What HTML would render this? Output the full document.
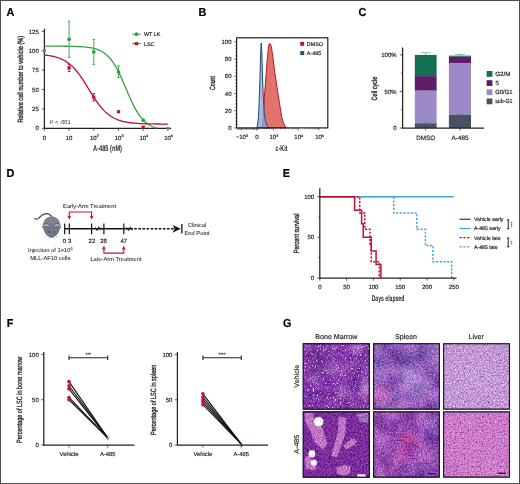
<!DOCTYPE html>
<html lang="en"><head><meta charset="utf-8"><title>Figure</title>
<style>
html,body{margin:0;padding:0;background:#fff;}
body{width:520px;height:484px;overflow:hidden;position:relative;}
svg{display:block;position:absolute;left:0;top:0;}
svg text{font-family:"Liberation Sans",sans-serif;text-rendering:geometricPrecision;}
#frame{position:absolute;left:0;top:0;width:518px;height:482px;border:1px solid #4d4d4d;}
</style></head><body>
<svg width="520" height="484" viewBox="0 0 520 484">
<defs><filter id="t00" filterUnits="userSpaceOnUse" x="303.15" y="343.75" width="66.15" height="65.3" color-interpolation-filters="sRGB"><feTurbulence type="fractalNoise" baseFrequency="0.65" numOctaves="2" seed="3" result="n"/><feColorMatrix in="n" type="matrix" values="0.6 0 0 0 0.22  0.45 0.15 0 0 0.22  0.45 0 0.15 0 0.22  0 0 0 0 1" result="n2"/><feComposite in="SourceGraphic" in2="n2" operator="arithmetic" k1="0" k2="1" k3="1" k4="-0.5" result="c1"/><feTurbulence type="fractalNoise" baseFrequency="0.08" numOctaves="2" seed="41" result="bn"/><feColorMatrix in="bn" type="matrix" values="0.3 0 0 0 0.35  0.24 0.06 0 0 0.35  0.18 0 0.06 0 0.38  0 0 0 0 1" result="bn2"/><feComposite in="c1" in2="bn2" operator="arithmetic" k1="0" k2="1" k3="1" k4="-0.5" result="cb"/><feTurbulence type="fractalNoise" baseFrequency="0.6" numOctaves="2" seed="11" result="wn"/><feColorMatrix in="wn" type="matrix" values="0 0 0 0 1  0 0 0 0 1  0 0 0 0 1  0 6 0 0 -3.84" result="w2"/><feComposite in="w2" in2="cb" operator="over" result="c3"/></filter><filter id="t01" filterUnits="userSpaceOnUse" x="373.65" y="343.75" width="65.7" height="65.3" color-interpolation-filters="sRGB"><feTurbulence type="fractalNoise" baseFrequency="0.65" numOctaves="2" seed="5" result="n"/><feColorMatrix in="n" type="matrix" values="0.7 0 0 0 0.17  0.52 0.17 0 0 0.17  0.52 0 0.17 0 0.17  0 0 0 0 1" result="n2"/><feComposite in="SourceGraphic" in2="n2" operator="arithmetic" k1="0" k2="1" k3="1" k4="-0.5" result="c1"/><feTurbulence type="fractalNoise" baseFrequency="0.06" numOctaves="2" seed="31" result="bn"/><feColorMatrix in="bn" type="matrix" values="0.45 0 0 0 0.28  0.36 0.09 0 0 0.28  0.27 0 0.09 0 0.32  0 0 0 0 1" result="bn2"/><feComposite in="c1" in2="bn2" operator="arithmetic" k1="0" k2="1" k3="1" k4="-0.5" result="cb"/><feTurbulence type="fractalNoise" baseFrequency="0.5" numOctaves="2" seed="12" result="wn"/><feColorMatrix in="wn" type="matrix" values="0 0 0 0 1  0 0 0 0 1  0 0 0 0 1  0 7 0 0 -5.18" result="w2"/><feComposite in="w2" in2="cb" operator="over" result="c3"/></filter><filter id="t02" filterUnits="userSpaceOnUse" x="443.65" y="343.75" width="65.8" height="65.3" color-interpolation-filters="sRGB"><feTurbulence type="fractalNoise" baseFrequency="0.65" numOctaves="2" seed="7" result="n"/><feColorMatrix in="n" type="matrix" values="0.8 0 0 0 0.12  0.6 0.2 0 0 0.12  0.6 0 0.2 0 0.12  0 0 0 0 1" result="n2"/><feComposite in="SourceGraphic" in2="n2" operator="arithmetic" k1="0" k2="1" k3="1" k4="-0.5" result="c1"/><feTurbulence type="fractalNoise" baseFrequency="0.5" numOctaves="2" seed="21" result="dn"/><feColorMatrix in="dn" type="matrix" values="0 0 0 0 0.45  0 0 0 0 0.25  0 0 0 0 0.6  6 0 0 0 -3.96" result="d2"/><feComposite in="d2" in2="c1" operator="over" result="c2"/></filter><filter id="t10" filterUnits="userSpaceOnUse" x="303.15" y="411.95" width="66.15" height="65.1" color-interpolation-filters="sRGB"><feTurbulence type="fractalNoise" baseFrequency="0.65" numOctaves="2" seed="9" result="n"/><feColorMatrix in="n" type="matrix" values="0.65 0 0 0 0.17  0.49 0.16 0 0 0.17  0.49 0 0.16 0 0.17  0 0 0 0 1" result="n2"/><feComposite in="SourceGraphic" in2="n2" operator="arithmetic" k1="0" k2="1" k3="1" k4="-0.5" result="c1"/></filter><filter id="t11" filterUnits="userSpaceOnUse" x="373.65" y="411.95" width="65.7" height="65.1" color-interpolation-filters="sRGB"><feTurbulence type="fractalNoise" baseFrequency="0.65" numOctaves="2" seed="13" result="n"/><feColorMatrix in="n" type="matrix" values="0.7 0 0 0 0.17  0.52 0.17 0 0 0.17  0.52 0 0.17 0 0.17  0 0 0 0 1" result="n2"/><feComposite in="SourceGraphic" in2="n2" operator="arithmetic" k1="0" k2="1" k3="1" k4="-0.5" result="c1"/><feTurbulence type="fractalNoise" baseFrequency="0.06" numOctaves="2" seed="37" result="bn"/><feColorMatrix in="bn" type="matrix" values="0.45 0 0 0 0.28  0.36 0.09 0 0 0.28  0.27 0 0.09 0 0.32  0 0 0 0 1" result="bn2"/><feComposite in="c1" in2="bn2" operator="arithmetic" k1="0" k2="1" k3="1" k4="-0.5" result="cb"/><feTurbulence type="fractalNoise" baseFrequency="0.5" numOctaves="2" seed="15" result="wn"/><feColorMatrix in="wn" type="matrix" values="0 0 0 0 1  0 0 0 0 1  0 0 0 0 1  0 7 0 0 -5.32" result="w2"/><feComposite in="w2" in2="cb" operator="over" result="c3"/></filter><filter id="t12" filterUnits="userSpaceOnUse" x="443.65" y="411.95" width="65.8" height="65.1" color-interpolation-filters="sRGB"><feTurbulence type="fractalNoise" baseFrequency="0.65" numOctaves="2" seed="17" result="n"/><feColorMatrix in="n" type="matrix" values="0.6 0 0 0 0.22  0.45 0.15 0 0 0.22  0.45 0 0.15 0 0.22  0 0 0 0 1" result="n2"/><feComposite in="SourceGraphic" in2="n2" operator="arithmetic" k1="0" k2="1" k3="1" k4="-0.5" result="c1"/><feTurbulence type="fractalNoise" baseFrequency="0.5" numOctaves="2" seed="23" result="dn"/><feColorMatrix in="dn" type="matrix" values="0 0 0 0 0.42  0 0 0 0 0.15  0 0 0 0 0.5  6 0 0 0 -3.84" result="d2"/><feComposite in="d2" in2="c1" operator="over" result="c2"/></filter><filter id="bl3" x="-50%" y="-50%" width="200%" height="200%"><feGaussianBlur stdDeviation="3"/></filter><filter id="bl2" x="-20%" y="-20%" width="140%" height="140%"><feGaussianBlur stdDeviation="0.7"/></filter></defs>
<rect width="520" height="484" fill="#fff"/>
<text transform="translate(6.6,15.8) scale(0.94,1)" font-size="11.5" font-weight="bold" fill="#000" stroke="#000" stroke-width="0.2">A</text>
<text transform="translate(198.4,15.8) scale(0.94,1)" font-size="11.5" font-weight="bold" fill="#000" stroke="#000" stroke-width="0.2">B</text>
<text transform="translate(358.6,15.8) scale(0.94,1)" font-size="11.5" font-weight="bold" fill="#000" stroke="#000" stroke-width="0.2">C</text>
<text transform="translate(6.6,177.3) scale(0.94,1)" font-size="11.5" font-weight="bold" fill="#000" stroke="#000" stroke-width="0.2">D</text>
<text transform="translate(282.8,176.8) scale(0.94,1)" font-size="11.5" font-weight="bold" fill="#000" stroke="#000" stroke-width="0.2">E</text>
<text transform="translate(6.7,326.6) scale(0.94,1)" font-size="11.5" font-weight="bold" fill="#000" stroke="#000" stroke-width="0.2">F</text>
<text transform="translate(283.1,326.8) scale(0.94,1)" font-size="11.5" font-weight="bold" fill="#000" stroke="#000" stroke-width="0.2">G</text>
<line x1="44.4" y1="28.8" x2="44.4" y2="128.7" stroke="#231f20" stroke-width="1.25" />
<line x1="44" y1="128.3" x2="171" y2="128.3" stroke="#231f20" stroke-width="1.25" />
<line x1="41.8" y1="128.3" x2="44.4" y2="128.3" stroke="#231f20" stroke-width="0.7" />
<text x="38.8" y="130.4" font-size="6.0" text-anchor="end" font-weight="normal" fill="#231f20" stroke="#231f20" stroke-width="0.18" >0</text>
<line x1="41.8" y1="108.93" x2="44.4" y2="108.93" stroke="#231f20" stroke-width="0.7" />
<text x="38.8" y="111.03" font-size="6.0" text-anchor="end" font-weight="normal" fill="#231f20" stroke="#231f20" stroke-width="0.18" >25</text>
<line x1="41.8" y1="89.55" x2="44.4" y2="89.55" stroke="#231f20" stroke-width="0.7" />
<text x="38.8" y="91.65" font-size="6.0" text-anchor="end" font-weight="normal" fill="#231f20" stroke="#231f20" stroke-width="0.18" >50</text>
<line x1="41.8" y1="70.18" x2="44.4" y2="70.18" stroke="#231f20" stroke-width="0.7" />
<text x="38.8" y="72.28" font-size="6.0" text-anchor="end" font-weight="normal" fill="#231f20" stroke="#231f20" stroke-width="0.18" >75</text>
<line x1="41.8" y1="50.8" x2="44.4" y2="50.8" stroke="#231f20" stroke-width="0.7" />
<text x="38.8" y="52.9" font-size="6.0" text-anchor="end" font-weight="normal" fill="#231f20" stroke="#231f20" stroke-width="0.18" >100</text>
<line x1="41.8" y1="31.43" x2="44.4" y2="31.43" stroke="#231f20" stroke-width="0.7" />
<text x="38.8" y="33.53" font-size="6.0" text-anchor="end" font-weight="normal" fill="#231f20" stroke="#231f20" stroke-width="0.18" >125</text>
<line x1="44.4" y1="128.3" x2="44.4" y2="130.9" stroke="#231f20" stroke-width="0.7" />
<text x="44.4" y="139.6" font-size="6.0" text-anchor="middle" font-weight="normal" fill="#231f20" stroke="#231f20" stroke-width="0.18" >0</text>
<line x1="69.1" y1="128.3" x2="69.1" y2="130.9" stroke="#231f20" stroke-width="0.7" />
<text x="69.1" y="139.6" font-size="6.0" text-anchor="middle" font-weight="normal" fill="#231f20" stroke="#231f20" stroke-width="0.18" >10</text>
<line x1="93.8" y1="128.3" x2="93.8" y2="130.9" stroke="#231f20" stroke-width="0.7" />
<text x="94.4" y="139.6" font-size="6.0" text-anchor="middle" font-weight="normal" fill="#231f20" stroke="#231f20" stroke-width="0.18" >10<tspan dy="-2.2" font-size="3.7">2</tspan></text>
<line x1="118.5" y1="128.3" x2="118.5" y2="130.9" stroke="#231f20" stroke-width="0.7" />
<text x="119.1" y="139.6" font-size="6.0" text-anchor="middle" font-weight="normal" fill="#231f20" stroke="#231f20" stroke-width="0.18" >10<tspan dy="-2.2" font-size="3.7">3</tspan></text>
<line x1="143.2" y1="128.3" x2="143.2" y2="130.9" stroke="#231f20" stroke-width="0.7" />
<text x="143.8" y="139.6" font-size="6.0" text-anchor="middle" font-weight="normal" fill="#231f20" stroke="#231f20" stroke-width="0.18" >10<tspan dy="-2.2" font-size="3.7">4</tspan></text>
<line x1="167.9" y1="128.3" x2="167.9" y2="130.9" stroke="#231f20" stroke-width="0.7" />
<text x="168.5" y="139.6" font-size="6.0" text-anchor="middle" font-weight="normal" fill="#231f20" stroke="#231f20" stroke-width="0.18" >10<tspan dy="-2.2" font-size="3.7">5</tspan></text>
<text x="93" y="151" font-size="8.2" textLength="29" lengthAdjust="spacingAndGlyphs" font-weight="bold" fill="#231f20" stroke="#231f20" stroke-width="0">A-485 (nM)</text>
<text transform="translate(22.6,122.6) rotate(-90)" font-size="7.6" textLength="86.8" lengthAdjust="spacingAndGlyphs" font-weight="normal" fill="#231f20" stroke="#231f20" stroke-width="0.32">Relative cell number to vehicle (%)</text>
<text x="49.6" y="123.6" font-size="5.6" fill="#231f20"><tspan font-style="italic">P</tspan> &lt; .001</text>
<polyline points="44.4,46.16 45.43,46.16 46.46,46.16 47.49,46.16 48.52,46.16 49.55,46.17 50.57,46.17 51.6,46.17 52.63,46.17 53.66,46.18 54.69,46.18 55.72,46.18 56.75,46.19 57.78,46.19 58.81,46.2 59.84,46.2 60.87,46.21 61.9,46.22 62.92,46.22 63.95,46.23 64.98,46.24 66.01,46.25 67.04,46.27 68.07,46.28 69.1,46.3 70.13,46.31 71.16,46.33 72.19,46.36 73.22,46.38 74.25,46.41 75.28,46.44 76.3,46.48 77.33,46.52 78.36,46.56 79.39,46.61 80.42,46.67 81.45,46.73 82.48,46.8 83.51,46.88 84.54,46.97 85.57,47.06 86.6,47.17 87.62,47.3 88.65,47.43 89.68,47.59 90.71,47.76 91.74,47.95 92.77,48.17 93.8,48.41 94.83,48.68 95.86,48.97 96.89,49.3 97.92,49.67 98.95,50.08 99.97,50.54 101,51.04 102.03,51.6 103.06,52.22 104.09,52.9 105.12,53.65 106.15,54.48 107.18,55.38 108.21,56.37 109.24,57.45 110.27,58.63 111.3,59.9 112.32,61.28 113.35,62.76 114.38,64.35 115.41,66.05 116.44,67.85 117.47,69.76 118.5,71.77 119.53,73.87 120.56,76.05 121.59,78.31 122.62,80.64 123.65,83.01 124.67,85.41 125.7,87.84 126.73,90.27 127.76,92.69 128.79,95.08 129.82,97.42 130.85,99.71 131.88,101.93 132.91,104.07 133.94,106.12 134.97,108.08 136,109.93 137.03,111.67 138.05,113.31 139.08,114.84 140.11,116.27 141.14,117.59 142.17,118.81 143.2,119.93 144.23,120.96 145.26,121.9 146.29,122.76 147.32,123.55 148.35,124.26 149.38,124.9 150.4,125.49 151.43,126.02 152.46,126.49 153.49,126.92 154.52,127.31 155.55,127.66 156.58,127.97 157.61,128.25" fill="none" stroke="#379f42" stroke-width="1.3"/>
<polyline points="44.4,55.01 45.43,55.12 46.46,55.25 47.49,55.38 48.52,55.52 49.55,55.68 50.57,55.86 51.6,56.05 52.63,56.26 53.66,56.49 54.69,56.74 55.72,57.01 56.75,57.31 57.78,57.63 58.81,57.99 59.84,58.37 60.87,58.79 61.9,59.25 62.92,59.74 63.95,60.27 64.98,60.85 66.01,61.48 67.04,62.15 68.07,62.87 69.1,63.65 70.13,64.49 71.16,65.38 72.19,66.33 73.22,67.34 74.25,68.41 75.28,69.55 76.3,70.75 77.33,72.01 78.36,73.33 79.39,74.7 80.42,76.13 81.45,77.62 82.48,79.15 83.51,80.72 84.54,82.32 85.57,83.96 86.6,85.62 87.62,87.3 88.65,88.98 89.68,90.66 90.71,92.34 91.74,94 92.77,95.63 93.8,97.24 94.83,98.82 95.86,100.35 96.89,101.83 97.92,103.26 98.95,104.64 99.97,105.96 101,107.22 102.03,108.42 103.06,109.56 104.09,110.64 105.12,111.65 106.15,112.61 107.18,113.5 108.21,114.33 109.24,115.11 110.27,115.84 111.3,116.52 112.32,117.14 113.35,117.72 114.38,118.26 115.41,118.75 116.44,119.21 117.47,119.63 118.5,120.02 119.53,120.37 120.56,120.7 121.59,121 122.62,121.27 123.65,121.52 124.67,121.75 125.7,121.96 126.73,122.15 127.76,122.33 128.79,122.49 129.82,122.63 130.85,122.76 131.88,122.89 132.91,123 133.94,123.1 134.97,123.19 136,123.27 137.03,123.35 138.05,123.42 139.08,123.48 140.11,123.54 141.14,123.59 142.17,123.64 143.2,123.68 144.23,123.72 145.26,123.76 146.29,123.79 147.32,123.82 148.35,123.85 149.38,123.87 150.4,123.89 151.43,123.91 152.46,123.93 153.49,123.95 154.52,123.96 155.55,123.98 156.58,123.99 157.61,124 158.64,124.01 159.67,124.02 160.7,124.03 161.72,124.04 162.75,124.04 163.78,124.05 164.81,124.06 165.84,124.06 166.87,124.07 167.9,124.07" fill="none" stroke="#be1230" stroke-width="1.3"/>
<line x1="69.1" y1="21.2" x2="69.1" y2="57.3" stroke="#379f42" stroke-width="0.9" />
<line x1="67.8" y1="21.2" x2="70.4" y2="21.2" stroke="#379f42" stroke-width="0.9" />
<line x1="67.8" y1="57.3" x2="70.4" y2="57.3" stroke="#379f42" stroke-width="0.9" />
<line x1="93.8" y1="39.4" x2="93.8" y2="64.4" stroke="#379f42" stroke-width="0.9" />
<line x1="92.5" y1="39.4" x2="95.1" y2="39.4" stroke="#379f42" stroke-width="0.9" />
<line x1="92.5" y1="64.4" x2="95.1" y2="64.4" stroke="#379f42" stroke-width="0.9" />
<line x1="118.5" y1="65.8" x2="118.5" y2="77.5" stroke="#379f42" stroke-width="0.9" />
<line x1="117.2" y1="65.8" x2="119.8" y2="65.8" stroke="#379f42" stroke-width="0.9" />
<line x1="117.2" y1="77.5" x2="119.8" y2="77.5" stroke="#379f42" stroke-width="0.9" />
<line x1="69.1" y1="64.5" x2="69.1" y2="71.5" stroke="#be1230" stroke-width="0.9" />
<line x1="67.8" y1="64.5" x2="70.4" y2="64.5" stroke="#be1230" stroke-width="0.9" />
<line x1="67.8" y1="71.5" x2="70.4" y2="71.5" stroke="#be1230" stroke-width="0.9" />
<line x1="93.8" y1="93.5" x2="93.8" y2="101" stroke="#be1230" stroke-width="0.9" />
<line x1="92.5" y1="93.5" x2="95.1" y2="93.5" stroke="#be1230" stroke-width="0.9" />
<line x1="92.5" y1="101" x2="95.1" y2="101" stroke="#be1230" stroke-width="0.9" />
<circle cx="44.4" cy="50.8" r="1.85" fill="#379f42"/>
<circle cx="69.1" cy="39.18" r="1.85" fill="#379f42"/>
<circle cx="93.8" cy="51.96" r="1.85" fill="#379f42"/>
<circle cx="118.5" cy="71.88" r="1.85" fill="#379f42"/>
<circle cx="143.2" cy="120.16" r="1.85" fill="#379f42"/>
<rect x="67.5" y="66.25" width="3.2" height="3.2" fill="#be1230"/>
<rect x="92.2" y="95.7" width="3.2" height="3.2" fill="#be1230"/>
<rect x="116.9" y="110.19" width="3.2" height="3.2" fill="#be1230"/>
<rect x="141.6" y="125.54" width="3.2" height="3.2" fill="#be1230"/>
<rect x="43.1" y="49.5" width="2.6" height="2.6" fill="#8a8a3a" opacity="0.7"/>
<circle cx="167.9" cy="128.3" r="1.6" fill="#6b8a3a"/>
<line x1="132.3" y1="34.2" x2="140.7" y2="34.2" stroke="#379f42" stroke-width="1" />
<circle cx="136.4" cy="34.2" r="1.85" fill="#379f42"/>
<text x="144" y="36.2" font-size="5.4" text-anchor="start" font-weight="normal" fill="#231f20" stroke="#231f20" stroke-width="0.18" >WT LK</text>
<line x1="132.3" y1="43.7" x2="140.7" y2="43.7" stroke="#be1230" stroke-width="1" />
<rect x="134.8" y="42.1" width="3.2" height="3.2" fill="#be1230"/>
<text x="144" y="45.7" font-size="5.4" text-anchor="start" font-weight="normal" fill="#231f20" stroke="#231f20" stroke-width="0.18" >LSC</text>
<path d="M262.2,127.9 L262.8,122 L263.3,116.6 L264.5,95 L266.2,73.3 L267.5,56 L268.5,47 L269.4,43.3 L270.3,44 L271.3,46.5 L272.6,55 L274.9,73.3 L278.2,95 L281.6,116.6 L283.3,122.5 L284.8,126 L286.6,127.9 Z" fill="#e2736b" fill-opacity="1" stroke="#c4122f" stroke-width="1.0" stroke-linejoin="round"/>
<path d="M256.9,127.9 L257.6,125 L258.5,116.6 L259.4,95 L260.1,73.3 L260.7,52 L261.2,43 L261.8,52 L262.4,73.3 L263.2,95 L264.3,114 L265.5,121.5 L267,125.5 L269.4,127.9 Z" fill="#8fa9cf" fill-opacity="0.8" stroke="#1f4e7c" stroke-width="1.0" stroke-linejoin="round"/>
<rect x="236.6" y="37.8" width="91.2" height="90.1" fill="none" stroke="#231f20" stroke-width="1.2"/>
<line x1="237" y1="128.8" x2="258.5" y2="128.8" stroke="#231f20" stroke-width="1.2" stroke-dasharray="0.7 0.45"/>
<line x1="234" y1="127.9" x2="236.6" y2="127.9" stroke="#231f20" stroke-width="0.6" />
<line x1="235.2" y1="124.46" x2="236.6" y2="124.46" stroke="#231f20" stroke-width="0.6" />
<line x1="235.2" y1="121.02" x2="236.6" y2="121.02" stroke="#231f20" stroke-width="0.6" />
<line x1="235.2" y1="117.58" x2="236.6" y2="117.58" stroke="#231f20" stroke-width="0.6" />
<line x1="235.2" y1="114.14" x2="236.6" y2="114.14" stroke="#231f20" stroke-width="0.6" />
<line x1="234" y1="110.7" x2="236.6" y2="110.7" stroke="#231f20" stroke-width="0.6" />
<line x1="235.2" y1="107.26" x2="236.6" y2="107.26" stroke="#231f20" stroke-width="0.6" />
<line x1="235.2" y1="103.82" x2="236.6" y2="103.82" stroke="#231f20" stroke-width="0.6" />
<line x1="235.2" y1="100.38" x2="236.6" y2="100.38" stroke="#231f20" stroke-width="0.6" />
<line x1="235.2" y1="96.94" x2="236.6" y2="96.94" stroke="#231f20" stroke-width="0.6" />
<line x1="234" y1="93.5" x2="236.6" y2="93.5" stroke="#231f20" stroke-width="0.6" />
<line x1="235.2" y1="90.06" x2="236.6" y2="90.06" stroke="#231f20" stroke-width="0.6" />
<line x1="235.2" y1="86.62" x2="236.6" y2="86.62" stroke="#231f20" stroke-width="0.6" />
<line x1="235.2" y1="83.18" x2="236.6" y2="83.18" stroke="#231f20" stroke-width="0.6" />
<line x1="235.2" y1="79.74" x2="236.6" y2="79.74" stroke="#231f20" stroke-width="0.6" />
<line x1="234" y1="76.3" x2="236.6" y2="76.3" stroke="#231f20" stroke-width="0.6" />
<line x1="235.2" y1="72.86" x2="236.6" y2="72.86" stroke="#231f20" stroke-width="0.6" />
<line x1="235.2" y1="69.42" x2="236.6" y2="69.42" stroke="#231f20" stroke-width="0.6" />
<line x1="235.2" y1="65.98" x2="236.6" y2="65.98" stroke="#231f20" stroke-width="0.6" />
<line x1="235.2" y1="62.54" x2="236.6" y2="62.54" stroke="#231f20" stroke-width="0.6" />
<line x1="234" y1="59.1" x2="236.6" y2="59.1" stroke="#231f20" stroke-width="0.6" />
<line x1="235.2" y1="55.66" x2="236.6" y2="55.66" stroke="#231f20" stroke-width="0.6" />
<line x1="235.2" y1="52.22" x2="236.6" y2="52.22" stroke="#231f20" stroke-width="0.6" />
<line x1="235.2" y1="48.78" x2="236.6" y2="48.78" stroke="#231f20" stroke-width="0.6" />
<line x1="235.2" y1="45.34" x2="236.6" y2="45.34" stroke="#231f20" stroke-width="0.6" />
<line x1="234" y1="41.9" x2="236.6" y2="41.9" stroke="#231f20" stroke-width="0.6" />
<text x="231.5" y="130" font-size="6.0" text-anchor="end" font-weight="normal" fill="#231f20" stroke="#231f20" stroke-width="0.18" >0</text>
<text x="231.5" y="112.8" font-size="6.0" text-anchor="end" font-weight="normal" fill="#231f20" stroke="#231f20" stroke-width="0.18" >20</text>
<text x="231.5" y="95.6" font-size="6.0" text-anchor="end" font-weight="normal" fill="#231f20" stroke="#231f20" stroke-width="0.18" >40</text>
<text x="231.5" y="78.4" font-size="6.0" text-anchor="end" font-weight="normal" fill="#231f20" stroke="#231f20" stroke-width="0.18" >60</text>
<text x="231.5" y="61.2" font-size="6.0" text-anchor="end" font-weight="normal" fill="#231f20" stroke="#231f20" stroke-width="0.18" >80</text>
<text x="231.5" y="44" font-size="6.0" text-anchor="end" font-weight="normal" fill="#231f20" stroke="#231f20" stroke-width="0.18" >100</text>
<line x1="241.3" y1="127.9" x2="241.3" y2="130.5" stroke="#231f20" stroke-width="0.6" />
<text x="241.8" y="139" font-size="6.0" text-anchor="middle" font-weight="normal" fill="#231f20" stroke="#231f20" stroke-width="0.18" >−10<tspan dy="-2.2" font-size="3.7">3</tspan></text>
<line x1="256.8" y1="127.9" x2="256.8" y2="130.5" stroke="#231f20" stroke-width="0.6" />
<text x="256.8" y="139" font-size="6.0" text-anchor="middle" font-weight="normal" fill="#231f20" stroke="#231f20" stroke-width="0.18" >0</text>
<line x1="273.4" y1="127.9" x2="273.4" y2="130.5" stroke="#231f20" stroke-width="0.6" />
<text x="273.9" y="139" font-size="6.0" text-anchor="middle" font-weight="normal" fill="#231f20" stroke="#231f20" stroke-width="0.18" >10<tspan dy="-2.2" font-size="3.7">3</tspan></text>
<line x1="298.2" y1="127.9" x2="298.2" y2="130.5" stroke="#231f20" stroke-width="0.6" />
<text x="298.7" y="139" font-size="6.0" text-anchor="middle" font-weight="normal" fill="#231f20" stroke="#231f20" stroke-width="0.18" >10<tspan dy="-2.2" font-size="3.7">4</tspan></text>
<line x1="319" y1="127.9" x2="319" y2="130.5" stroke="#231f20" stroke-width="0.6" />
<text x="319.5" y="139" font-size="6.0" text-anchor="middle" font-weight="normal" fill="#231f20" stroke="#231f20" stroke-width="0.18" >10<tspan dy="-2.2" font-size="3.7">5</tspan></text>
<line x1="280.87" y1="127.9" x2="280.87" y2="129.3" stroke="#231f20" stroke-width="0.4" />
<line x1="285.23" y1="127.9" x2="285.23" y2="129.3" stroke="#231f20" stroke-width="0.4" />
<line x1="288.33" y1="127.9" x2="288.33" y2="129.3" stroke="#231f20" stroke-width="0.4" />
<line x1="290.73" y1="127.9" x2="290.73" y2="129.3" stroke="#231f20" stroke-width="0.4" />
<line x1="292.7" y1="127.9" x2="292.7" y2="129.3" stroke="#231f20" stroke-width="0.4" />
<line x1="294.36" y1="127.9" x2="294.36" y2="129.3" stroke="#231f20" stroke-width="0.4" />
<line x1="295.8" y1="127.9" x2="295.8" y2="129.3" stroke="#231f20" stroke-width="0.4" />
<line x1="297.07" y1="127.9" x2="297.07" y2="129.3" stroke="#231f20" stroke-width="0.4" />
<line x1="304.46" y1="127.9" x2="304.46" y2="129.3" stroke="#231f20" stroke-width="0.4" />
<line x1="308.12" y1="127.9" x2="308.12" y2="129.3" stroke="#231f20" stroke-width="0.4" />
<line x1="310.72" y1="127.9" x2="310.72" y2="129.3" stroke="#231f20" stroke-width="0.4" />
<line x1="312.74" y1="127.9" x2="312.74" y2="129.3" stroke="#231f20" stroke-width="0.4" />
<line x1="314.39" y1="127.9" x2="314.39" y2="129.3" stroke="#231f20" stroke-width="0.4" />
<line x1="315.78" y1="127.9" x2="315.78" y2="129.3" stroke="#231f20" stroke-width="0.4" />
<line x1="316.98" y1="127.9" x2="316.98" y2="129.3" stroke="#231f20" stroke-width="0.4" />
<line x1="318.05" y1="127.9" x2="318.05" y2="129.3" stroke="#231f20" stroke-width="0.4" />
<line x1="325.32" y1="127.9" x2="325.32" y2="129.3" stroke="#231f20" stroke-width="0.4" />
<line x1="244" y1="127.9" x2="244" y2="129.3" stroke="#231f20" stroke-width="0.4" />
<line x1="246.5" y1="127.9" x2="246.5" y2="129.3" stroke="#231f20" stroke-width="0.4" />
<line x1="249" y1="127.9" x2="249" y2="129.3" stroke="#231f20" stroke-width="0.4" />
<line x1="251.5" y1="127.9" x2="251.5" y2="129.3" stroke="#231f20" stroke-width="0.4" />
<line x1="254" y1="127.9" x2="254" y2="129.3" stroke="#231f20" stroke-width="0.4" />
<line x1="259.5" y1="127.9" x2="259.5" y2="129.3" stroke="#231f20" stroke-width="0.4" />
<line x1="262" y1="127.9" x2="262" y2="129.3" stroke="#231f20" stroke-width="0.4" />
<line x1="264.5" y1="127.9" x2="264.5" y2="129.3" stroke="#231f20" stroke-width="0.4" />
<line x1="267" y1="127.9" x2="267" y2="129.3" stroke="#231f20" stroke-width="0.4" />
<line x1="269.5" y1="127.9" x2="269.5" y2="129.3" stroke="#231f20" stroke-width="0.4" />
<line x1="271.5" y1="127.9" x2="271.5" y2="129.3" stroke="#231f20" stroke-width="0.4" />
<text x="275.5" y="151" font-size="8.2" textLength="12" lengthAdjust="spacingAndGlyphs" font-weight="bold" fill="#231f20" stroke="#231f20" stroke-width="0">c-Kit</text>
<text transform="translate(215.2,90) rotate(-90)" font-size="7.6" textLength="14" lengthAdjust="spacingAndGlyphs" font-weight="normal" fill="#231f20" stroke="#231f20" stroke-width="0.32">Count</text>
<rect x="300.2" y="41.8" width="4" height="4" fill="#be1230"/>
<text x="306.8" y="45.8" font-size="5.4" text-anchor="start" font-weight="normal" fill="#231f20" stroke="#231f20" stroke-width="0.18" >DMSO</text>
<rect x="300.2" y="51.1" width="4" height="4" fill="#1f4e7c"/>
<text x="306.8" y="55.1" font-size="5.4" text-anchor="start" font-weight="normal" fill="#231f20" stroke="#231f20" stroke-width="0.18" >A-485</text>
<rect x="414.8" y="54.9" width="21.8" height="21.2" fill="#136f54"/>
<rect x="414.8" y="76.1" width="21.8" height="14.62" fill="#5e1d69"/>
<rect x="414.8" y="90.72" width="21.8" height="32.53" fill="#9b8ac6"/>
<rect x="414.8" y="123.25" width="21.8" height="4.75" fill="#485263"/>
<rect x="448.9" y="55.63" width="22.1" height="1.1" fill="#136f54"/>
<rect x="448.9" y="56.73" width="22.1" height="6.58" fill="#5e1d69"/>
<rect x="448.9" y="63.31" width="22.1" height="51.54" fill="#9b8ac6"/>
<rect x="448.9" y="114.84" width="22.1" height="13.16" fill="#485263"/>
<line x1="420.7" y1="52.7" x2="430.7" y2="52.7" stroke="#3d9a7c" stroke-width="0.6" />
<line x1="425.7" y1="52.7" x2="425.7" y2="55.2" stroke="#3d9a7c" stroke-width="0.6" />
<line x1="422.1" y1="91.32" x2="429.3" y2="91.32" stroke="#9b8ac6" stroke-width="0.6" />
<line x1="422.1" y1="122.45" x2="429.3" y2="122.45" stroke="#6a7485" stroke-width="0.6" />
<line x1="455" y1="54.4" x2="465" y2="54.4" stroke="#3d9a7c" stroke-width="0.6" />
<line x1="460" y1="54.4" x2="460" y2="56" stroke="#3d9a7c" stroke-width="0.6" />
<line x1="456.4" y1="63.91" x2="463.6" y2="63.91" stroke="#9b8ac6" stroke-width="0.6" />
<line x1="456.4" y1="114.04" x2="463.6" y2="114.04" stroke="#6a7485" stroke-width="0.6" />
<line x1="402.6" y1="47.5" x2="402.6" y2="128.4" stroke="#231f20" stroke-width="1.25" />
<line x1="402.2" y1="128" x2="484" y2="128" stroke="#231f20" stroke-width="1.25" />
<line x1="399.8" y1="128" x2="402.6" y2="128" stroke="#231f20" stroke-width="0.7" />
<text x="396.6" y="130.1" font-size="6.0" text-anchor="end" font-weight="normal" fill="#231f20" stroke="#231f20" stroke-width="0.18" >0</text>
<line x1="399.8" y1="91.45" x2="402.6" y2="91.45" stroke="#231f20" stroke-width="0.7" />
<text x="396.6" y="93.55" font-size="6.0" text-anchor="end" font-weight="normal" fill="#231f20" stroke="#231f20" stroke-width="0.18" >50%</text>
<line x1="399.8" y1="54.9" x2="402.6" y2="54.9" stroke="#231f20" stroke-width="0.7" />
<text x="396.6" y="57" font-size="6.0" text-anchor="end" font-weight="normal" fill="#231f20" stroke="#231f20" stroke-width="0.18" >100%</text>
<line x1="401" y1="109.72" x2="402.6" y2="109.72" stroke="#231f20" stroke-width="0.6" />
<line x1="401" y1="73.18" x2="402.6" y2="73.18" stroke="#231f20" stroke-width="0.6" />
<line x1="425.7" y1="128" x2="425.7" y2="130.6" stroke="#231f20" stroke-width="0.7" />
<line x1="460" y1="128" x2="460" y2="130.6" stroke="#231f20" stroke-width="0.7" />
<text x="425.7" y="139.7" font-size="6.3" text-anchor="middle" font-weight="normal" fill="#231f20" stroke="#231f20" stroke-width="0.18" >DMSO</text>
<text x="460" y="139.7" font-size="6.3" text-anchor="middle" font-weight="normal" fill="#231f20" stroke="#231f20" stroke-width="0.18" >A-485</text>
<text transform="translate(376.6,100.4) rotate(-90)" font-size="7.6" textLength="23.6" lengthAdjust="spacingAndGlyphs" font-weight="normal" fill="#231f20" stroke="#231f20" stroke-width="0.32">Cell cycle</text>
<rect x="486.6" y="71" width="5.8" height="5.8" fill="#136f54"/>
<text x="495.2" y="76" font-size="6.0" text-anchor="start" font-weight="normal" fill="#231f20" stroke="#231f20" stroke-width="0.18" textLength="15.2" lengthAdjust="spacingAndGlyphs">G2/M</text>
<rect x="486.6" y="80.15" width="5.8" height="5.8" fill="#5e1d69"/>
<text x="495.2" y="85.15" font-size="6.0" text-anchor="start" font-weight="normal" fill="#231f20" stroke="#231f20" stroke-width="0.18" textLength="3.8" lengthAdjust="spacingAndGlyphs">S</text>
<rect x="486.6" y="89.3" width="5.8" height="5.8" fill="#9b8ac6"/>
<text x="495.2" y="94.3" font-size="6.0" text-anchor="start" font-weight="normal" fill="#231f20" stroke="#231f20" stroke-width="0.18" textLength="17.3" lengthAdjust="spacingAndGlyphs">G0/G1</text>
<rect x="486.6" y="98.45" width="5.8" height="5.8" fill="#485263"/>
<text x="495.2" y="103.45" font-size="6.0" text-anchor="start" font-weight="normal" fill="#231f20" stroke="#231f20" stroke-width="0.18" textLength="17.3" lengthAdjust="spacingAndGlyphs">sub-G1</text>
<line x1="64.6" y1="228.8" x2="133" y2="228.8" stroke="#111" stroke-width="1.4" />
<line x1="134.2" y1="228.8" x2="175" y2="228.8" stroke="#111" stroke-width="1.5" stroke-dasharray="2.6 1.5"/>
<path d="M172.4,224.9 L180.8,228.8 L172.4,232.7 L174.8,228.8 Z" fill="#111"/>
<line x1="181.9" y1="224" x2="181.9" y2="233.6" stroke="#111" stroke-width="1.3" />
<line x1="64.7" y1="223.6" x2="64.7" y2="234.2" stroke="#111" stroke-width="1.2" />
<line x1="69.3" y1="223.6" x2="69.3" y2="234.2" stroke="#111" stroke-width="1.2" />
<line x1="91.6" y1="223.6" x2="91.6" y2="234.2" stroke="#111" stroke-width="1.2" />
<line x1="103.9" y1="223.6" x2="103.9" y2="234.2" stroke="#111" stroke-width="1.2" />
<line x1="123.8" y1="223.6" x2="123.8" y2="234.2" stroke="#111" stroke-width="1.2" />
<path d="M95.2,227.2 L97.2,230.8 L98.8,226.8 L101.2,230.4" fill="none" stroke="#111" stroke-width="0.8"/>
<path d="M126.6,227.2 L128.6,230.8 L130.2,226.8 L132.6,230.4" fill="none" stroke="#111" stroke-width="0.8"/>
<text x="64.4" y="242.9" font-size="6" text-anchor="middle" font-weight="normal" fill="#231f20" stroke="#231f20" stroke-width="0.18" >0</text>
<text x="69.6" y="242.9" font-size="6" text-anchor="middle" font-weight="normal" fill="#231f20" stroke="#231f20" stroke-width="0.18" >3</text>
<text x="91.9" y="242.9" font-size="6" text-anchor="middle" font-weight="normal" fill="#231f20" stroke="#231f20" stroke-width="0.18" >22</text>
<text x="103.6" y="242.9" font-size="6" text-anchor="middle" font-weight="normal" fill="#231f20" stroke="#231f20" stroke-width="0.18" >28</text>
<text x="123.8" y="242.9" font-size="6" text-anchor="middle" font-weight="normal" fill="#231f20" stroke="#231f20" stroke-width="0.18" >47</text>
<text x="89.6" y="207.6" font-size="5.75" text-anchor="middle" font-weight="normal" fill="#231f20" stroke="#231f20" stroke-width="0.06" >Early-Arm Treatment</text>
<text x="116" y="261" font-size="5.75" text-anchor="middle" font-weight="normal" fill="#231f20" stroke="#231f20" stroke-width="0.06" >Late-Arm Treatment</text>
<text x="50.3" y="252.1" font-size="5.75" text-anchor="middle" fill="#231f20" stroke="#231f20" stroke-width="0.06">Injection of 1×10<tspan dy="-2" font-size="3.8">6</tspan></text>
<text x="50.3" y="259.7" font-size="5.75" text-anchor="middle" font-weight="normal" fill="#231f20" stroke="#231f20" stroke-width="0.06" >MLL-AF10 cells</text>
<text x="197" y="227.4" font-size="5.75" text-anchor="middle" font-weight="normal" fill="#231f20" stroke="#231f20" stroke-width="0.06" >Clinical</text>
<text x="197" y="234.8" font-size="5.75" text-anchor="middle" font-weight="normal" fill="#231f20" stroke="#231f20" stroke-width="0.06" >End Point</text>
<path d="M69.3,217 V212 H91.6 V217" fill="none" stroke="#c0143c" stroke-width="1.1"/>
<path d="M69.3,219.8 L67.3,215.4 L69.3,216.4 L71.3,215.4 Z" fill="#c0143c"/>
<path d="M91.6,219.8 L89.6,215.4 L91.6,216.4 L93.6,215.4 Z" fill="#c0143c"/>
<path d="M103.9,249 V253.1 H123.8 V249" fill="none" stroke="#c0143c" stroke-width="1.1"/>
<path d="M103.9,245.6 L101.9,250 L103.9,249 L105.9,250 Z" fill="#c0143c"/>
<path d="M123.8,245.6 L121.8,250 L123.8,249 L125.8,250 Z" fill="#c0143c"/>
<g>
<path d="M34.6,218.4 C35.6,219.4 37,219.6 38.4,218.4 C40.6,216.4 43,213.6 46.4,213.6 C49,213.6 50.8,215.2 52,217" fill="none" stroke="#3f424c" stroke-width="1.1" stroke-linecap="round"/>
<ellipse cx="51.6" cy="224.6" rx="8.6" ry="8.2" fill="#7d8292"/>
<path d="M43.2,227 C43.6,233 47,237.2 51.6,237.2 C56.2,237.2 59.6,233 60,227 Z" fill="#747988"/>
<path d="M42.6,227.6 C42.6,224.6 44.6,223.2 47,223.6 C49,224 50,225.6 49.8,227.4 C48,226.4 45,226.6 42.6,227.6 Z" fill="#a9aec0" stroke="#4a4e5c" stroke-width="0.7"/>
<path d="M60.6,227.6 C60.6,224.6 58.6,223.2 56.2,223.6 C54.2,224 53.2,225.6 53.4,227.4 C55.2,226.4 58.2,226.6 60.6,227.6 Z" fill="#a9aec0" stroke="#4a4e5c" stroke-width="0.7"/>
<circle cx="49.4" cy="232" r="0.7" fill="#2a2c34"/><circle cx="54" cy="232" r="0.7" fill="#2a2c34"/>
<path d="M47.6,235.6 L45.4,237.6 M55.6,235.6 L57.8,237.6 M49.6,236.6 L48.6,238.6 M53.6,236.6 L54.6,238.6" stroke="#8a8e9a" stroke-width="0.5" fill="none"/>
<path d="M49.6,236.4 C50.6,237.4 52.6,237.4 53.6,236.4" stroke="#3a3c46" stroke-width="0.8" fill="none"/>
</g>
<path d="M319.8,196.65 H453.8" fill="none" stroke="#41a9e0" stroke-width="1.5" />
<path d="M319.8,196.65 H393.77 H393.77 V212.92 H416.82 H416.82 V229.19 H425.39 H425.39 V245.46 H432.9 H432.9 V261.73 H451.66 H451.66 V278" fill="none" stroke="#41a9e0" stroke-width="1.5" stroke-dasharray="2.2 1.5"/>
<path d="M319.8,196.65 H359.73 H359.73 V212.92 H364.82 H364.82 V229.19 H369.92 H369.92 V245.46 H371.26 H371.26 V261.73 H379.3 H379.3 V278" fill="none" stroke="#be1230" stroke-width="1.5" stroke-dasharray="2.2 1.5"/>
<path d="M319.8,196.65 H354.64 H354.64 V210.24 H361.61 H361.61 V223.74 H363.22 H363.22 V237.32 H371.26 H371.26 V250.91 H376.08 H376.08 V264.41 H380.9 H380.9 V278" fill="none" stroke="#be1230" stroke-width="1.5" />
<line x1="319.8" y1="188.3" x2="319.8" y2="278.4" stroke="#231f20" stroke-width="1.25" />
<line x1="319.4" y1="278" x2="456.5" y2="278" stroke="#231f20" stroke-width="1.25" />
<line x1="317.2" y1="278" x2="319.8" y2="278" stroke="#231f20" stroke-width="0.7" />
<text x="314.2" y="280.1" font-size="6.0" text-anchor="end" font-weight="normal" fill="#231f20" stroke="#231f20" stroke-width="0.18" >0</text>
<line x1="317.2" y1="237.32" x2="319.8" y2="237.32" stroke="#231f20" stroke-width="0.7" />
<text x="314.2" y="239.42" font-size="6.0" text-anchor="end" font-weight="normal" fill="#231f20" stroke="#231f20" stroke-width="0.18" >50</text>
<line x1="317.2" y1="196.65" x2="319.8" y2="196.65" stroke="#231f20" stroke-width="0.7" />
<text x="314.2" y="198.75" font-size="6.0" text-anchor="end" font-weight="normal" fill="#231f20" stroke="#231f20" stroke-width="0.18" >100</text>
<line x1="318.2" y1="257.66" x2="319.8" y2="257.66" stroke="#231f20" stroke-width="0.6" />
<line x1="318.2" y1="216.99" x2="319.8" y2="216.99" stroke="#231f20" stroke-width="0.6" />
<line x1="319.8" y1="278" x2="319.8" y2="280.6" stroke="#231f20" stroke-width="0.7" />
<text x="319.8" y="288.8" font-size="6.0" text-anchor="middle" font-weight="normal" fill="#231f20" stroke="#231f20" stroke-width="0.18" >0</text>
<line x1="346.6" y1="278" x2="346.6" y2="280.6" stroke="#231f20" stroke-width="0.7" />
<text x="346.6" y="288.8" font-size="6.0" text-anchor="middle" font-weight="normal" fill="#231f20" stroke="#231f20" stroke-width="0.18" >50</text>
<line x1="373.4" y1="278" x2="373.4" y2="280.6" stroke="#231f20" stroke-width="0.7" />
<text x="373.4" y="288.8" font-size="6.0" text-anchor="middle" font-weight="normal" fill="#231f20" stroke="#231f20" stroke-width="0.18" >100</text>
<line x1="400.2" y1="278" x2="400.2" y2="280.6" stroke="#231f20" stroke-width="0.7" />
<text x="400.2" y="288.8" font-size="6.0" text-anchor="middle" font-weight="normal" fill="#231f20" stroke="#231f20" stroke-width="0.18" >150</text>
<line x1="427" y1="278" x2="427" y2="280.6" stroke="#231f20" stroke-width="0.7" />
<text x="427" y="288.8" font-size="6.0" text-anchor="middle" font-weight="normal" fill="#231f20" stroke="#231f20" stroke-width="0.18" >200</text>
<line x1="453.8" y1="278" x2="453.8" y2="280.6" stroke="#231f20" stroke-width="0.7" />
<text x="453.8" y="288.8" font-size="6.0" text-anchor="middle" font-weight="normal" fill="#231f20" stroke="#231f20" stroke-width="0.18" >250</text>
<text x="371.7" y="300.8" font-size="8.2" textLength="32.6" lengthAdjust="spacingAndGlyphs" font-weight="bold" fill="#231f20" stroke="#231f20" stroke-width="0">Days elapsed</text>
<text transform="translate(299,253.2) rotate(-90)" font-size="7.6" textLength="39.6" lengthAdjust="spacingAndGlyphs" font-weight="normal" fill="#231f20" stroke="#231f20" stroke-width="0.32">Percent survival</text>
<line x1="459.5" y1="219.3" x2="470.6" y2="219.3" stroke="#be1230" stroke-width="1.3" />
<text x="474" y="221.1" font-size="5.2" text-anchor="start" font-weight="normal" fill="#231f20" stroke="#231f20" stroke-width="0.18" >Vehicle early</text>
<line x1="459.5" y1="228.5" x2="470.6" y2="228.5" stroke="#41a9e0" stroke-width="1.3" />
<text x="474" y="230.3" font-size="5.2" text-anchor="start" font-weight="normal" fill="#231f20" stroke="#231f20" stroke-width="0.18" >A-485 early</text>
<line x1="459.5" y1="237.7" x2="470.6" y2="237.7" stroke="#be1230" stroke-width="1.3" stroke-dasharray="2.3 1.5"/>
<text x="474" y="239.5" font-size="5.2" text-anchor="start" font-weight="normal" fill="#231f20" stroke="#231f20" stroke-width="0.18" >Vehicle late</text>
<line x1="459.5" y1="246.9" x2="470.6" y2="246.9" stroke="#41a9e0" stroke-width="1.3" stroke-dasharray="2.3 1.5"/>
<text x="474" y="248.7" font-size="5.2" text-anchor="start" font-weight="normal" fill="#231f20" stroke="#231f20" stroke-width="0.18" >A-485 late</text>
<path d="M507,219.9 H509.4 M508.2,219.9 V228.8 M507,228.8 H509.4" fill="none" stroke="#231f20" stroke-width="1"/>
<text transform="translate(513.6,224.35) rotate(-90)" font-size="5" text-anchor="middle" fill="#231f20">***</text>
<path d="M507,238.1 H509.4 M508.2,238.1 V246.8 M507,246.8 H509.4" fill="none" stroke="#231f20" stroke-width="1"/>
<text transform="translate(513.6,242.45) rotate(-90)" font-size="5" text-anchor="middle" fill="#231f20">**</text>
<line x1="69" y1="381.65" x2="107.7" y2="437.87" stroke="#111" stroke-width="1.1" />
<line x1="69" y1="385.72" x2="107.7" y2="437.87" stroke="#111" stroke-width="1.1" />
<line x1="69" y1="388.89" x2="107.7" y2="437.87" stroke="#111" stroke-width="1.1" />
<line x1="69" y1="397.49" x2="107.7" y2="437.87" stroke="#111" stroke-width="1.1" />
<line x1="69" y1="399.75" x2="107.7" y2="437.87" stroke="#111" stroke-width="1.1" />
<circle cx="69" cy="381.65" r="1.8" fill="#be1230"/>
<circle cx="69" cy="385.72" r="1.8" fill="#be1230"/>
<circle cx="69" cy="388.89" r="1.8" fill="#be1230"/>
<circle cx="69" cy="397.49" r="1.8" fill="#be1230"/>
<circle cx="69" cy="399.75" r="1.8" fill="#be1230"/>
<path d="M107.7,440.87 L109.7,437.47 L105.7,437.47 Z" fill="#41a9e0"/>
<line x1="43.8" y1="352" x2="43.8" y2="445.4" stroke="#231f20" stroke-width="1.25" />
<line x1="43.4" y1="445" x2="134.5" y2="445" stroke="#231f20" stroke-width="1.25" />
<line x1="41.2" y1="445" x2="43.8" y2="445" stroke="#231f20" stroke-width="0.7" />
<text x="38.8" y="447.1" font-size="6.0" text-anchor="end" font-weight="normal" fill="#231f20" stroke="#231f20" stroke-width="0.18" >0</text>
<line x1="41.2" y1="399.75" x2="43.8" y2="399.75" stroke="#231f20" stroke-width="0.7" />
<text x="38.8" y="401.85" font-size="6.0" text-anchor="end" font-weight="normal" fill="#231f20" stroke="#231f20" stroke-width="0.18" >50</text>
<line x1="41.2" y1="354.5" x2="43.8" y2="354.5" stroke="#231f20" stroke-width="0.7" />
<text x="38.8" y="356.6" font-size="6.0" text-anchor="end" font-weight="normal" fill="#231f20" stroke="#231f20" stroke-width="0.18" >100</text>
<line x1="69" y1="445" x2="69" y2="447.6" stroke="#231f20" stroke-width="0.7" />
<text x="69" y="456.2" font-size="5.85" text-anchor="middle" font-weight="normal" fill="#231f20" stroke="#231f20" stroke-width="0.18" >Vehicle</text>
<line x1="107.7" y1="445" x2="107.7" y2="447.6" stroke="#231f20" stroke-width="0.7" />
<text x="107.7" y="456.2" font-size="5.85" text-anchor="middle" font-weight="normal" fill="#231f20" stroke="#231f20" stroke-width="0.18" >A-485</text>
<path d="M69,355.6 V360 M69,357.8 H107.7 M107.7,355.6 V360" fill="none" stroke="#231f20" stroke-width="1.1"/>
<text x="88.35" y="356.4" font-size="4.6" text-anchor="middle" font-weight="normal" fill="#231f20" stroke="#231f20" stroke-width="0.18" >***</text>
<text transform="translate(22.4,442.9) rotate(-90)" font-size="7.6" textLength="86.2" lengthAdjust="spacingAndGlyphs" font-weight="normal" fill="#231f20" stroke="#231f20" stroke-width="0.32">Percentage of LSC in bone marrow</text>
<line x1="202.9" y1="393.87" x2="241.3" y2="444.2" stroke="#111" stroke-width="1.1" />
<line x1="202.9" y1="397.03" x2="241.3" y2="444.2" stroke="#111" stroke-width="1.1" />
<line x1="202.9" y1="399.75" x2="241.3" y2="444.2" stroke="#111" stroke-width="1.1" />
<line x1="202.9" y1="402.01" x2="241.3" y2="444.2" stroke="#111" stroke-width="1.1" />
<line x1="202.9" y1="404.73" x2="241.3" y2="444.2" stroke="#111" stroke-width="1.1" />
<circle cx="202.9" cy="393.87" r="1.8" fill="#be1230"/>
<circle cx="202.9" cy="397.03" r="1.8" fill="#be1230"/>
<circle cx="202.9" cy="399.75" r="1.8" fill="#be1230"/>
<circle cx="202.9" cy="402.01" r="1.8" fill="#be1230"/>
<circle cx="202.9" cy="404.73" r="1.8" fill="#be1230"/>
<path d="M241.3,447.2 L243.3,443.8 L239.3,443.8 Z" fill="#41a9e0"/>
<line x1="177.4" y1="352" x2="177.4" y2="445.4" stroke="#231f20" stroke-width="1.25" />
<line x1="177" y1="445" x2="268" y2="445" stroke="#231f20" stroke-width="1.25" />
<line x1="174.8" y1="445" x2="177.4" y2="445" stroke="#231f20" stroke-width="0.7" />
<text x="172.4" y="447.1" font-size="6.0" text-anchor="end" font-weight="normal" fill="#231f20" stroke="#231f20" stroke-width="0.18" >0</text>
<line x1="174.8" y1="399.75" x2="177.4" y2="399.75" stroke="#231f20" stroke-width="0.7" />
<text x="172.4" y="401.85" font-size="6.0" text-anchor="end" font-weight="normal" fill="#231f20" stroke="#231f20" stroke-width="0.18" >50</text>
<line x1="174.8" y1="354.5" x2="177.4" y2="354.5" stroke="#231f20" stroke-width="0.7" />
<text x="172.4" y="356.6" font-size="6.0" text-anchor="end" font-weight="normal" fill="#231f20" stroke="#231f20" stroke-width="0.18" >100</text>
<line x1="202.9" y1="445" x2="202.9" y2="447.6" stroke="#231f20" stroke-width="0.7" />
<text x="202.9" y="456.2" font-size="5.85" text-anchor="middle" font-weight="normal" fill="#231f20" stroke="#231f20" stroke-width="0.18" >Vehicle</text>
<line x1="241.3" y1="445" x2="241.3" y2="447.6" stroke="#231f20" stroke-width="0.7" />
<text x="241.3" y="456.2" font-size="5.85" text-anchor="middle" font-weight="normal" fill="#231f20" stroke="#231f20" stroke-width="0.18" >A-485</text>
<path d="M202.9,355.6 V360 M202.9,357.8 H241.3 M241.3,355.6 V360" fill="none" stroke="#231f20" stroke-width="1.1"/>
<text x="222.1" y="356.4" font-size="4.6" text-anchor="middle" font-weight="normal" fill="#231f20" stroke="#231f20" stroke-width="0.18" >****</text>
<text transform="translate(155.7,435) rotate(-90)" font-size="7.6" textLength="70.4" lengthAdjust="spacingAndGlyphs" font-weight="normal" fill="#231f20" stroke="#231f20" stroke-width="0.32">Percentage of LSC in spleen</text>
<text x="336.4" y="338.6" font-size="7.1" text-anchor="middle" font-weight="normal" fill="#231f20" stroke="#231f20" stroke-width="0.18" >Bone Marrow</text>
<text x="406" y="338.6" font-size="7.1" text-anchor="middle" font-weight="normal" fill="#231f20" stroke="#231f20" stroke-width="0.18" >Spleen</text>
<text x="476.2" y="338.6" font-size="7.1" text-anchor="middle" font-weight="normal" fill="#231f20" stroke="#231f20" stroke-width="0.18" >Liver</text>
<text transform="translate(298.9,376.2) rotate(-90)" font-size="7.1" text-anchor="middle" fill="#231f20" stroke="#231f20" stroke-width="0.18">Vehicle</text>
<text transform="translate(298.9,444.2) rotate(-90)" font-size="7.1" text-anchor="middle" fill="#231f20" stroke="#231f20" stroke-width="0.18">A-485</text>
<g filter="url(#t00)"><rect x="302.15" y="342.75" width="68.15" height="67.3" fill="#8034a4"/>
<g filter="url(#bl3)"><ellipse cx="357" cy="349" rx="5" ry="3" fill="#e0c8ec" opacity="0.7" transform="rotate(0 357 349)"/><ellipse cx="366" cy="388" rx="2.5" ry="8" fill="#eadcf2" opacity="0.8" transform="rotate(0 366 388)"/><ellipse cx="334" cy="370" rx="3" ry="8" fill="#c9a0dc" opacity="0.5" transform="rotate(20 334 370)"/><ellipse cx="343" cy="394" rx="6" ry="2.5" fill="#d8b8e6" opacity="0.6" transform="rotate(-20 343 394)"/><ellipse cx="318" cy="362" rx="12" ry="14" fill="#64308c" opacity="0.5" transform="rotate(0 318 362)"/><ellipse cx="355" cy="372" rx="8" ry="10" fill="#64308c" opacity="0.4" transform="rotate(0 355 372)"/><ellipse cx="320" cy="398" rx="12" ry="8" fill="#6a3292" opacity="0.4" transform="rotate(0 320 398)"/></g><g filter="url(#bl2)"></g></g>
<rect x="303.15" y="343.75" width="66.15" height="65.3" fill="none" stroke="#1a1028" stroke-width="1.15"/>
<g filter="url(#t01)"><rect x="372.65" y="342.75" width="67.7" height="67.3" fill="#8a58b4"/>
<g filter="url(#bl3)"><ellipse cx="381" cy="397" rx="9" ry="11" fill="#b860b8" opacity="0.75" transform="rotate(0 381 397)"/><ellipse cx="414" cy="382" rx="9" ry="18" fill="#a890d2" opacity="0.6" transform="rotate(-35 414 382)"/><ellipse cx="390" cy="358" rx="16" ry="12" fill="#6a46a6" opacity="0.5" transform="rotate(0 390 358)"/><ellipse cx="430" cy="400" rx="8" ry="6" fill="#9c60ba" opacity="0.5" transform="rotate(0 430 400)"/><ellipse cx="430" cy="352" rx="8" ry="8" fill="#8a70c0" opacity="0.5" transform="rotate(0 430 352)"/><ellipse cx="402" cy="404" rx="12" ry="4" fill="#a860b8" opacity="0.5" transform="rotate(0 402 404)"/><ellipse cx="378" cy="370" rx="5" ry="8" fill="#9a78c4" opacity="0.5" transform="rotate(0 378 370)"/></g><g filter="url(#bl2)"></g></g>
<rect x="373.65" y="343.75" width="65.7" height="65.3" fill="none" stroke="#1a1028" stroke-width="1.15"/>
<g filter="url(#t02)"><rect x="442.65" y="342.75" width="67.8" height="67.3" fill="#bf94d0"/>
<g filter="url(#bl3)"><ellipse cx="476" cy="376" rx="20" ry="20" fill="#c9a0d6" opacity="0.3" transform="rotate(0 476 376)"/><ellipse cx="500" cy="352" rx="8" ry="8" fill="#b890cc" opacity="0.4" transform="rotate(0 500 352)"/></g><g filter="url(#bl2)"></g></g>
<rect x="443.65" y="343.75" width="65.8" height="65.3" fill="none" stroke="#1a1028" stroke-width="1.15"/>
<g filter="url(#t10)"><rect x="302.15" y="410.95" width="68.15" height="67.1" fill="#7c2e9c"/>
<g filter="url(#bl3)"></g><g filter="url(#bl2)"><g fill="#c274c6"><path d="M304.5,413 L313,413 L314,420 L322.3,427.3 L327.5,443.7 L322.3,449.7 L314.9,442.2 L311,432 L305,421 Z"/><path d="M338.6,416.5 L346,418 L345.4,433.3 L341,445.6 L337.3,457.6 L331.4,455.8 L335,442.2 L338.2,430.3 Z"/><path d="M343.2,445.2 L352.1,438.5 L357.3,440 L355.1,444.5 L346.1,449.7 Z"/><path d="M336.5,467.5 L344.6,465.3 L350.6,466.8 L349.9,473.5 L343.2,475.7 L337.2,473.5 Z"/><path d="M304.5,457.1 L308.9,455.6 L316.4,467.5 L314.9,470.5 L306,469 Z"/><path d="M356.5,414 L368.4,412.5 L368.4,422.9 L359.5,421.4 Z" fill="#a070bc"/></g></g><g fill="#fff" stroke="#eadcf2" stroke-width="0.6"><circle cx="318.6" cy="421.8" r="4.6"/><ellipse cx="311.9" cy="453.8" rx="3.2" ry="3.5"/><circle cx="313.8" cy="462.8" r="3"/></g></g>
<rect x="303.15" y="411.95" width="66.15" height="65.1" fill="none" stroke="#1a1028" stroke-width="1.15"/>
<g filter="url(#t11)"><rect x="372.65" y="410.95" width="67.7" height="67.1" fill="#8e48ac"/>
<g filter="url(#bl3)"><ellipse cx="406" cy="446" rx="10" ry="14" fill="#b84cae" opacity="0.7" transform="rotate(20 406 446)"/><ellipse cx="432" cy="428" rx="7" ry="14" fill="#6c4caa" opacity="0.7" transform="rotate(0 432 428)"/><ellipse cx="383" cy="450" rx="7" ry="16" fill="#a452b2" opacity="0.5" transform="rotate(0 383 450)"/><ellipse cx="408" cy="440" rx="4" ry="5" fill="#d84a88" opacity="0.6" transform="rotate(0 408 440)"/><ellipse cx="404" cy="454" rx="3" ry="3" fill="#d84a88" opacity="0.5" transform="rotate(0 404 454)"/><ellipse cx="422" cy="466" rx="10" ry="8" fill="#7c4aaa" opacity="0.5" transform="rotate(0 422 466)"/><ellipse cx="390" cy="420" rx="10" ry="6" fill="#8a4ab0" opacity="0.4" transform="rotate(0 390 420)"/></g><g filter="url(#bl2)"></g></g>
<rect x="373.65" y="411.95" width="65.7" height="65.1" fill="none" stroke="#1a1028" stroke-width="1.15"/>
<g filter="url(#t12)"><rect x="442.65" y="410.95" width="67.8" height="67.1" fill="#ca7ac6"/>
<g filter="url(#bl3)"><ellipse cx="476" cy="444" rx="20" ry="20" fill="#c874c4" opacity="0.3" transform="rotate(0 476 444)"/><ellipse cx="452" cy="470" rx="10" ry="8" fill="#b868bc" opacity="0.4" transform="rotate(0 452 470)"/></g><g filter="url(#bl2)"></g></g>
<rect x="443.65" y="411.95" width="65.8" height="65.1" fill="none" stroke="#1a1028" stroke-width="1.15"/>
<line x1="357.3" y1="475.4" x2="365.5" y2="475.4" stroke="#fff" stroke-width="2.2" />
<line x1="427.3" y1="473.6" x2="435.5" y2="473.6" stroke="#2a1060" stroke-width="1.2" />
<line x1="497.6" y1="473.4" x2="505.9" y2="473.4" stroke="#4a0a50" stroke-width="1.2" />
</svg>
<div id="frame"></div>
</body></html>
